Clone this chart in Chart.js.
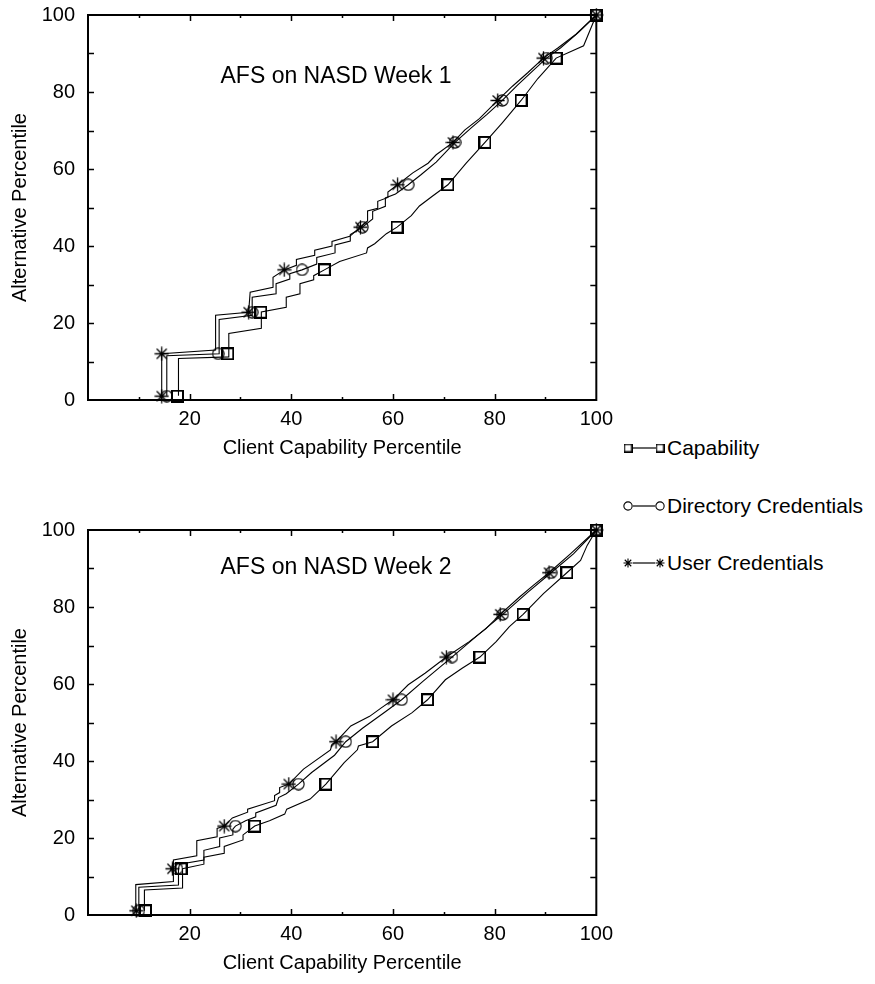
<!DOCTYPE html>
<html>
<head>
<meta charset="utf-8">
<script src="https://cdn.jsdelivr.net/npm/chart.js@4.4.0/dist/chart.umd.min.js"></script>
<style>
  body { margin: 0; background: #fff; width: 875px; height: 984px; overflow: hidden; position: relative;
         font-family: "Liberation Sans", Arial, sans-serif; color: #000; }
  .panel { position: absolute; left: 0; }
  #p1 { top: -10px; }
  #p2 { top: 505px; }
  .row { position: absolute; left: 621px; height: 24px; display: flex; align-items: center; font-size: 21px; white-space: nowrap; }
  .row canvas { display: block; }
</style>
</head>
<body>
<canvas id="p1" class="panel" width="620" height="480"></canvas>
<canvas id="p2" class="panel" width="620" height="480"></canvas>
<div class="row" id="leg0" style="top:436px"></div>
<div class="row" id="leg1" style="top:494px"></div>
<div class="row" id="leg2" style="top:551px"></div>
<script>
// ---- data: [client capability percentile, alternative percentile] ----
const seriesNames = ['Capability', 'Directory Credentials', 'User Credentials'];
const panelTitles = ['AFS on NASD Week 1', 'AFS on NASD Week 2'];
const xTitle = 'Client Capability Percentile';
const yTitle = 'Alternative Percentile';

// week 1
const w1CapLine = [[17.8,1.1],[17.8,10.8],[27.7,11.2],[27.7,17.3],[34.1,18.6],[34.1,22.9],[39.0,24.1],[39.0,26.7],
  [41.7,27.6],[41.7,30.2],[44.4,31.2],[44.4,32.3],[46.5,33.8],[49.5,36.0],[54.8,38.2],[55.0,39.5],[56.4,40.6],
  [58.7,43.2],[60.8,44.9],[63.6,47.9],[65.2,50.4],[67.8,53.0],[70.8,55.9],[74.4,61.5],[78.1,66.9],[81.5,72.0],
  [85.2,77.8],[88.5,83.5],[92.1,88.8],[95.0,90.5],[97.5,92.0],[100,100]];
const w1CapMarks = [[17.6,1.0],[27.5,12.0],[34.0,22.8],[46.5,33.8],[60.8,44.9],[70.8,55.9],[78.1,66.9],[85.2,77.8],[92.1,88.8],[100,100]];

const w1DirLine = [[15.5,1.1],[15.5,11.5],[25.8,12.0],[25.8,20.9],[32.3,22.0],[32.3,26.7],[37.0,27.6],[37.0,30.2],
  [39.7,31.4],[39.7,32.8],[42.1,33.8],[45.0,35.3],[45.0,37.0],[48.6,38.2],[48.6,40.3],[51.6,41.3],[51.6,43.0],
  [54.0,44.9],[56.0,47.0],[56.0,49.0],[58.5,50.3],[58.5,52.5],[60.5,53.5],[63.0,55.9],[65.5,58.5],[68.5,61.8],
  [72.2,66.9],[75.5,70.8],[78.5,74.2],[81.5,77.8],[84.5,81.8],[87.5,85.5],[90.2,88.8],[93.0,91.5],[96.5,95.5],[100,100]];
const w1DirMarks = [[15.5,1.0],[25.6,12.0],[32.3,22.8],[42.1,33.8],[54.0,44.9],[63.0,55.9],[72.2,66.9],[81.5,77.8],[90.2,88.8],[100,100]];

const w1UserLine = [[14.5,1.0],[14.5,12.0],[25.1,13.0],[25.1,22.0],[31.6,22.8],[31.9,28.0],[36.4,29.3],[36.4,31.9],
  [38.6,33.8],[41.0,35.0],[41.0,36.5],[44.6,37.6],[44.6,38.9],[48.0,40.0],[48.0,41.2],[51.5,42.5],[53.6,44.9],
  [55.0,46.5],[55.0,49.1],[57.0,49.8],[57.0,51.6],[59.0,52.6],[59.0,54.0],[60.9,55.9],[63.9,59.0],[66.9,61.5],
  [68.5,63.7],[71.8,66.9],[74.1,70.1],[77.0,73.1],[80.6,77.8],[83.5,81.5],[86.5,85.0],[89.6,88.8],[92.5,91.5],[96.0,95.0],[100,100]];
const w1UserMarks = [[14.5,1.0],[14.5,12.0],[31.6,22.8],[38.6,33.8],[53.6,44.9],[60.9,55.9],[71.8,66.9],[80.6,77.8],[89.6,88.8],[100,100]];

// week 2
const w2CapLine = [[11.1,1.1],[11.1,6.5],[18.6,7.0],[18.6,12.0],[22.8,13.2],[22.8,15.0],[26.8,16.0],[26.8,17.8],
  [30.5,19.5],[30.5,20.8],[32.8,23.1],[35.7,24.5],[38.7,26.2],[39.1,27.5],[43.7,30.1],[46.8,34.0],[50.4,39.6],
  [53.0,42.9],[53.2,43.9],[56.0,45.0],[59.7,49.1],[63.7,52.5],[66.8,55.9],[70.3,61.1],[73.6,64.1],[77.1,67.0],
  [80.3,71.0],[82.9,74.9],[85.6,78.1],[89.6,83.5],[94.2,88.9],[96.9,92.1],[98.2,96.0],[100,100]];
const w2CapMarks = [[11.3,1.1],[18.3,12.0],[32.8,23.1],[46.8,34.0],[56.0,45.0],[66.8,55.9],[77.1,67.0],[85.6,78.1],[94.2,88.9],[100,100]];

const w2DirLine = [[10.0,1.1],[10.0,7.2],[17.8,7.8],[17.8,12.0],[18.0,13.2],[22.8,14.3],[22.8,16.8],[25.9,17.8],
  [25.9,20.0],[28.5,20.8],[28.5,22.3],[29.0,23.1],[31.0,24.5],[33.0,25.5],[33.0,26.5],[37.0,28.5],[37.5,30.5],
  [39.0,31.5],[41.4,34.0],[44.0,37.0],[48.5,41.5],[50.7,45.0],[54.0,48.5],[58.5,52.8],[61.7,55.9],[66.0,60.8],
  [71.6,67.0],[76.5,72.5],[81.6,78.1],[86.5,83.8],[91.1,88.9],[95.5,93.8],[100,100]];
const w2DirMarks = [[10.0,1.1],[17.5,12.0],[29.0,23.1],[41.4,34.0],[50.7,45.0],[61.7,55.9],[71.6,67.0],[81.6,78.1],[91.1,88.9],[100,100]];

const w2UserLine = [[9.4,1.1],[9.4,7.9],[16.8,8.7],[16.8,14.3],[21.4,15.4],[21.4,19.3],[25.4,20.3],[25.4,22.5],
  [26.8,23.1],[28.4,25.2],[31.4,26.7],[31.4,27.5],[36.7,29.7],[36.7,31.0],[37.7,31.8],[37.7,33.1],[39.5,34.0],
  [42.4,37.9],[47.7,42.9],[48.0,44.3],[48.8,45.0],[51.7,49.1],[55.4,51.6],[57.7,53.8],[60.0,55.9],[63.0,59.8],
  [66.3,62.8],[70.5,67.0],[75.0,71.0],[78.3,74.4],[81.1,78.1],[84.9,82.6],[87.6,85.6],[90.7,88.9],[94.9,93.8],[100,100]];
const w2UserMarks = [[9.5,1.1],[16.6,12.0],[26.8,23.1],[39.5,34.0],[48.8,45.0],[60.0,55.9],[70.5,67.0],[81.1,78.1],[90.7,88.9],[100,100]];

// ---- marker images ----
function makeMarker(kind, size, lw) {
  const c = document.createElement('canvas');
  c.width = c.height = size;
  const g = c.getContext('2d');
  const m = size / 2;
  g.strokeStyle = '#000';
  g.lineWidth = lw;
  g.beginPath();
  if (kind === 'square') {
    g.rect(lw / 2, lw / 2, size - lw, size - lw);
  } else if (kind === 'circle') {
    g.arc(m, m, m - lw / 2 - 0.3, 0, Math.PI * 2);
  } else {
    const r = m - 0.5, d = r * 0.72;
    g.moveTo(m, m - r); g.lineTo(m, m + r);
    g.moveTo(m - r, m); g.lineTo(m + r, m);
    g.moveTo(m - d, m - d); g.lineTo(m + d, m + d);
    g.moveTo(m - d, m + d); g.lineTo(m + d, m - d);
  }
  g.stroke();
  return c;
}
const kinds = ['square', 'circle', 'star'];
const plotMarks = [makeMarker('square', 13, 2), makeMarker('circle', 13, 1.1), makeMarker('star', 15, 1.3)];

// ---- legend (html) ----
kinds.forEach((k, i) => {
  const row = document.getElementById('leg' + i);
  const c = document.createElement('canvas');
  c.width = 46; c.height = 14;
  const g = c.getContext('2d');
  g.strokeStyle = '#000'; g.lineWidth = 1.2;
  g.beginPath(); g.moveTo(7, 7); g.lineTo(39, 7); g.stroke();
  const mk = k === 'square' ? makeMarker(k, 9, 1.5) : makeMarker(k, 10, 1.1);
  g.clearRect(7 - mk.width / 2, 7 - mk.height / 2, mk.width, mk.height);
  g.clearRect(39 - mk.width / 2, 7 - mk.height / 2, mk.width, mk.height);
  g.drawImage(mk, 7 - mk.width / 2, 7 - mk.height / 2);
  g.drawImage(mk, 39 - mk.width / 2, 7 - mk.height / 2);
  row.appendChild(c);
  const s = document.createElement('span');
  s.textContent = seriesNames[i];
  row.appendChild(s);
});

// ---- chart ----
Chart.defaults.font.family = '"Liberation Sans", Arial, sans-serif';
Chart.defaults.font.size = 20;
Chart.defaults.color = '#000';

// frame, inward ticks on all sides, and the panel title
const framePlugin = {
  id: 'frame',
  afterDraw(chart, args, opts) {
    const { ctx, chartArea: a, scales: { x, y } } = chart;
    ctx.save();
    ctx.strokeStyle = '#000';
    ctx.lineWidth = 2;
    ctx.strokeRect(a.left, a.top, a.right - a.left, a.bottom - a.top);
    ctx.lineWidth = 1.5;
    ctx.beginPath();
    x.ticks.forEach(t => {
      if (t.value <= 0 || t.value >= 100) return;
      const len = t.value % 20 === 0 ? 6 : 3;
      const px = Math.round(x.getPixelForValue(t.value)) + 0.5;
      ctx.moveTo(px, a.bottom); ctx.lineTo(px, a.bottom - len);
      ctx.moveTo(px, a.top); ctx.lineTo(px, a.top + len);
    });
    y.ticks.forEach(t => {
      if (t.value <= 0 || t.value >= 100) return;
      const py = Math.round(y.getPixelForValue(t.value)) + 0.5;
      ctx.moveTo(a.left, py); ctx.lineTo(a.left + 6, py);
      ctx.moveTo(a.right, py); ctx.lineTo(a.right - 6, py);
    });
    ctx.stroke();
    ctx.font = '23px "Liberation Sans", Arial, sans-serif';
    ctx.fillStyle = '#000';
    ctx.textAlign = 'center';
    ctx.textBaseline = 'middle';
    ctx.fillText(opts.text, a.left + opts.dx, a.top + opts.dy);
    ctx.restore();
  }
};

const toPts = arr => arr.map(([x, y]) => ({ x, y }));
const lineSet = pts => ({ data: toPts(pts), showLine: true, borderColor: '#000', borderWidth: 1.1,
  pointRadius: 0, tension: 0, clip: false });
const markSet = (pts, img) => ({ data: toPts(pts), showLine: false, pointStyle: img, pointRadius: 6,
  borderColor: '#000', clip: false });

function axis(isX) {
  return {
    type: 'linear', min: 0, max: 100,
    grid: { display: false, drawTicks: false },
    border: { display: false },
    ticks: {
      stepSize: 10, autoSkip: false, maxRotation: 0, padding: isX ? 7 : 13,
      callback: v => (v % 20 === 0 && !(isX && v === 0)) ? v : ''
    },
    title: { display: true, text: isX ? xTitle : yTitle,
      padding: isX ? { top: 0, bottom: 10 } : { top: 8, bottom: 0 } },
    afterFit(s) { if (isX) s.height = 70; else s.width = 88; }
  };
}

function makeChart(id, lines, marks, title, dy) {
  const datasets = [];
  lines.forEach(l => datasets.push(lineSet(l)));
  marks.forEach((m, i) => datasets.push(markSet(m, plotMarks[i])));
  new Chart(document.getElementById(id), {
    type: 'scatter',
    data: { datasets },
    options: {
      responsive: false,
      animation: false,
      layout: { padding: { top: 20, right: 23, left: 0, bottom: 0 } },
      plugins: { legend: { display: false }, tooltip: { enabled: false },
        frame: { text: title, dx: 248, dy } },
      scales: { x: axis(true), y: axis(false) }
    },
    plugins: [framePlugin]
  });
}

makeChart('p1', [w1CapLine, w1DirLine, w1UserLine], [w1CapMarks, w1DirMarks, w1UserMarks], panelTitles[0], 62);
makeChart('p2', [w2CapLine, w2DirLine, w2UserLine], [w2CapMarks, w2DirMarks, w2UserMarks], panelTitles[1], 38);
</script>
</body>
</html>
